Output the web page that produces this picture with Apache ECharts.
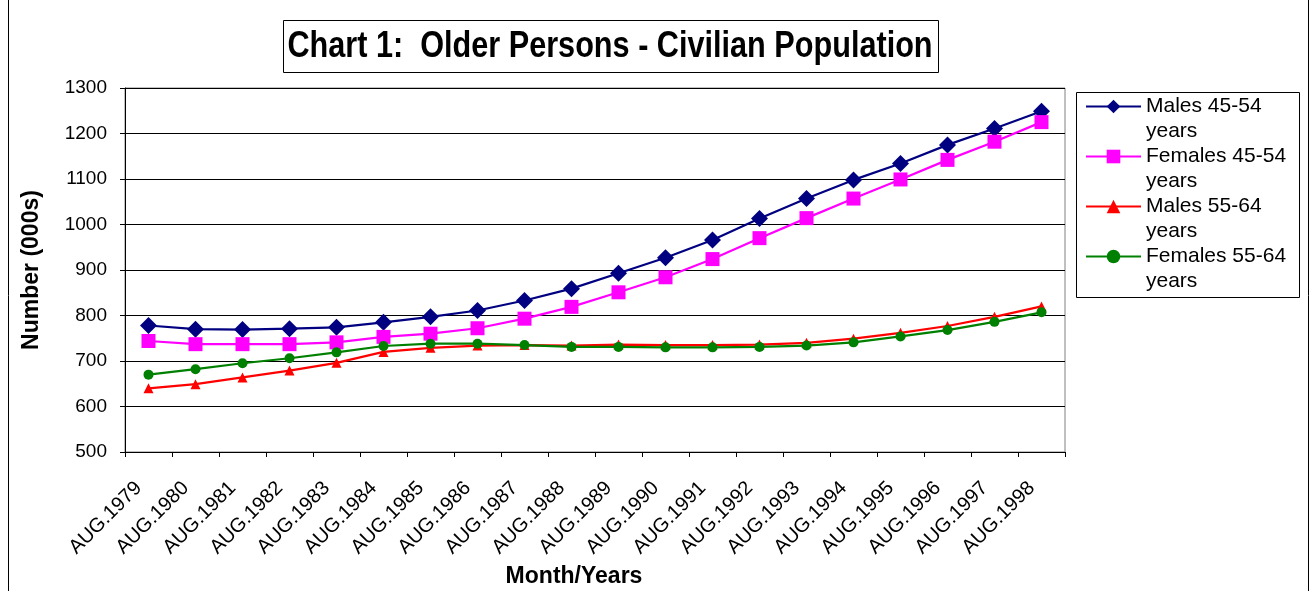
<!DOCTYPE html>
<html>
<head>
<meta charset="utf-8">
<script src="https://cdn.jsdelivr.net/npm/echarts@6/dist/echarts.min.js"></script>
<style>
html,body{margin:0;padding:0;background:#fff;}
#chart{width:1316px;height:591px;}
</style>
</head>
<body>
<div id="chart"></div>
<script>
const categories = ['AUG.1979','AUG.1980','AUG.1981','AUG.1982','AUG.1983','AUG.1984','AUG.1985','AUG.1986','AUG.1987','AUG.1988','AUG.1989','AUG.1990','AUG.1991','AUG.1992','AUG.1993','AUG.1994','AUG.1995','AUG.1996','AUG.1997','AUG.1998'];
const males4554   = [778, 770, 769, 771, 774, 785, 797, 811, 833, 859, 893, 927, 966, 1013, 1057, 1098, 1134, 1175, 1211, 1249];
const females4554 = [744, 737, 737, 737, 741, 753, 760, 772, 793, 819, 851, 884, 924, 970, 1014, 1057, 1099, 1142, 1182, 1225];
const males5564   = [640, 649, 664, 679, 696, 720, 729, 734, 735, 734, 736, 735, 735, 736, 740, 749, 762, 777, 797, 820];
const females5564 = [670, 682, 695, 706, 719, 733, 738, 738, 735, 731, 731, 730, 730, 731, 734, 741, 754, 768, 786, 807];
const yTicks = {min: 500, max: 1300, interval: 100};
const titleText = 'Chart 1:  Older Persons - Civilian Population';

const FONT = "'Liberation Sans', Arial, sans-serif";
const chart = echarts.init(document.getElementById('chart'), null, {renderer: 'canvas'});

function mk(name, data, color, symbol, size) {
  return {
    name: name, type: 'line', data: data,
    symbol: symbol, symbolSize: size,
    lineStyle: {color: color, width: 2.2},
    itemStyle: {color: color},
    emphasis: {disabled: true},
    animation: false
  };
}

chart.setOption({
  animation: false,
  backgroundColor: '#fff',
  textStyle: {fontFamily: FONT},
  graphic: [
    {type: 'rect', shape: {x: 8.5, y: -2, width: 1300, height: 600}, style: {fill: null, stroke: '#000', lineWidth: 1}, silent: true, z: -10},
    {type: 'rect', shape: {x: 283.5, y: 20.5, width: 655, height: 52}, style: {fill: null, stroke: '#000', lineWidth: 1}, silent: true},
    {type: 'text', x: 610, y: 47, scaleX: 0.828, silent: true,
      style: {text: titleText, textAlign: 'center', textVerticalAlign: 'middle', fill: '#000',
        font: 'bold 37px ' + FONT}},
    {type: 'rect', shape: {x: 1076.5, y: 92.5, width: 223, height: 205}, style: {fill: null, stroke: '#000', lineWidth: 1}, silent: true}
  ],
  legend: {
    orient: 'vertical',
    left: 1085, top: 69,
    padding: 0,
    itemWidth: 55, itemHeight: 17,
    itemGap: -25,
    formatter: function (n) { return '\n' + n.replace(' years', '\nyears'); },
    textStyle: {fontSize: 21, lineHeight: 25, color: '#000', fontFamily: FONT},
    selectedMode: false
  },
  grid: {left: 125, right: 251, top: 88, bottom: 139, outerBoundsMode: 'none', containLabel: false,
    show: true, borderColor: '#808080', borderWidth: 1, backgroundColor: '#fff'},
  xAxis: {
    type: 'category', data: categories, boundaryGap: true,
    name: 'Month/Years', nameLocation: 'middle', nameGap: 107,
    nameTextStyle: {fontSize: 23, fontWeight: 'bold', color: '#000', fontFamily: FONT, padding: [0, 42, 0, 0]},
    axisLine: {lineStyle: {color: '#000', width: 1}},
    axisTick: {show: true, interval: 0, length: 5, lineStyle: {color: '#000'}},
    axisLabel: {interval: 0, rotate: 45, fontSize: 20, color: '#000', margin: 23, padding: [0, 14, 0, 0], fontFamily: FONT}
  },
  yAxis: {
    type: 'value', min: yTicks.min, max: yTicks.max, interval: yTicks.interval,
    name: 'Number (000s)', nameLocation: 'middle', nameGap: 82,
    nameTextStyle: {fontSize: 23, fontWeight: 'bold', color: '#000', fontFamily: FONT},
    axisLine: {show: true, lineStyle: {color: '#000', width: 1}},
    axisTick: {show: true, length: 5, lineStyle: {color: '#000'}},
    splitLine: {show: true, lineStyle: {color: '#000', width: 1}},
    axisLabel: {fontSize: 19, color: '#000', margin: 18, fontFamily: FONT, formatter: function (v) { return String(v); }}
  },
  series: [
    mk('Males 45-54 years', males4554, '#000080', 'diamond', 17),
    mk('Females 45-54 years', females4554, '#FF00FF', 'rect', 14),
    mk('Males 55-64 years', males5564, '#FF0000', 'triangle', 10),
    mk('Females 55-64 years', females5564, '#008000', 'circle', 10)
  ]
});
</script>
</body>
</html>
